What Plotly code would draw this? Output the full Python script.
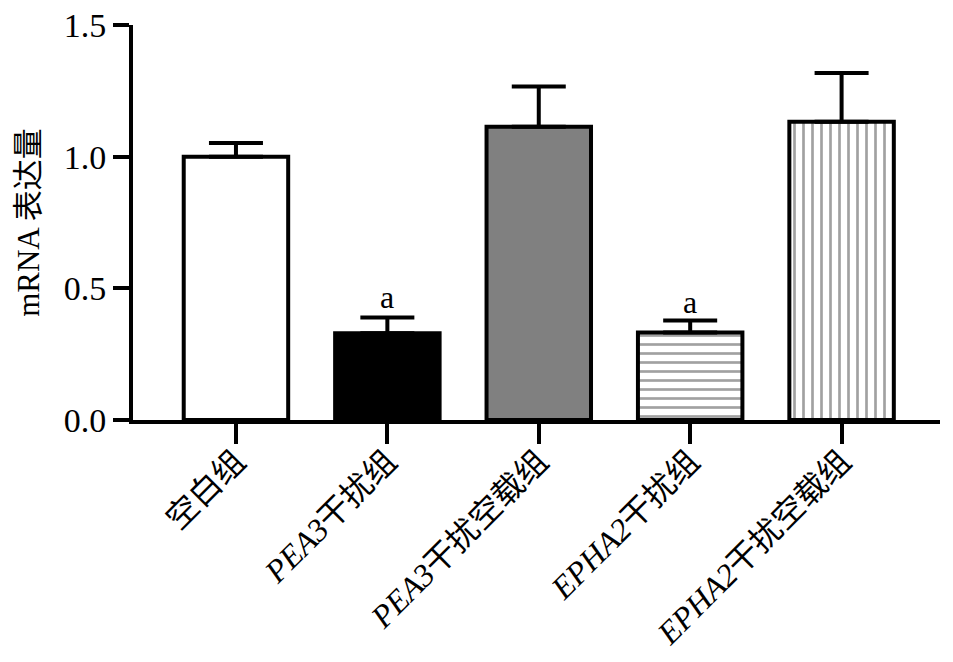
import plotly.graph_objects as go

categories = ["空白组", "<i>PEA3</i>干扰组", "<i>PEA3</i>干扰空载组", "<i>EPHA2</i>干扰组", "<i>EPHA2</i>干扰空载组"]
means = [1.0, 0.329, 1.114, 0.332, 1.133]
err_upper = [0.052, 0.060, 0.152, 0.046, 0.185]
sig_labels = ["", "a", "", "a", ""]
sig_y = [0, 0.468, 0, 0.45, 0]
fill_colors = ["white", "black", "#808080", "white", "white"]
patterns = ["", "", "", "-", "|"]

FONT = "Liberation Serif, Times New Roman, Noto Sans CJK SC, serif"

x_idx = list(range(len(categories)))

fig = go.Figure()
fig.add_trace(go.Bar(
    x=x_idx, y=means, width=0.69,
    marker=dict(color=fill_colors, line=dict(color="black", width=4),
                pattern=dict(shape=patterns, fgcolor="black", bgcolor="white",
                             size=9, solidity=0.3, fillmode="overlay")),
    error_y=dict(type="data", array=err_upper, arrayminus=[0] * len(means),
                 symmetric=False, color="black", thickness=4, width=27),
    showlegend=False,
))

for i, (lab, yv) in enumerate(zip(sig_labels, sig_y)):
    if lab:
        fig.add_annotation(x=i, y=yv, text=lab, showarrow=False,
                           font=dict(family=FONT, size=32, color="black"))

fig.update_layout(
    width=945, height=654,
    margin=dict(l=125, r=13, t=17, b=242, autoexpand=False),
    plot_bgcolor="white", paper_bgcolor="white",
    font=dict(family=FONT, color="black"),
)
fig.update_xaxes(
    range=[-0.68, 4.65], tickmode="array", tickvals=x_idx, ticktext=categories,
    tickangle=-45, showline=True, linecolor="black", linewidth=4,
    ticks="outside", ticklen=20, tickwidth=4, tickcolor="black",
    ticklabelstandoff=-14,
    tickfont=dict(family=FONT, size=32, color="black"),
    automargin=False, ticklabeloverflow="allow",
    showgrid=False, zeroline=False,
)
fig.update_yaxes(
    range=[0, 1.5], tickvals=[0, 0.5, 1.0, 1.5], ticktext=["0.0", "0.5", "1.0", "1.5"],
    showline=True, linecolor="black", linewidth=4,
    ticks="outside", ticklen=16, tickwidth=4, tickcolor="black",
    tickfont=dict(family=FONT, size=34, color="black"),
    ticklabeloverflow="allow", automargin=False,
    title=dict(text="mRNA 表达量", font=dict(family=FONT, size=31, color="black"), standoff=16),
    showgrid=False, zeroline=False,
)

fig.write_html("out.html")
